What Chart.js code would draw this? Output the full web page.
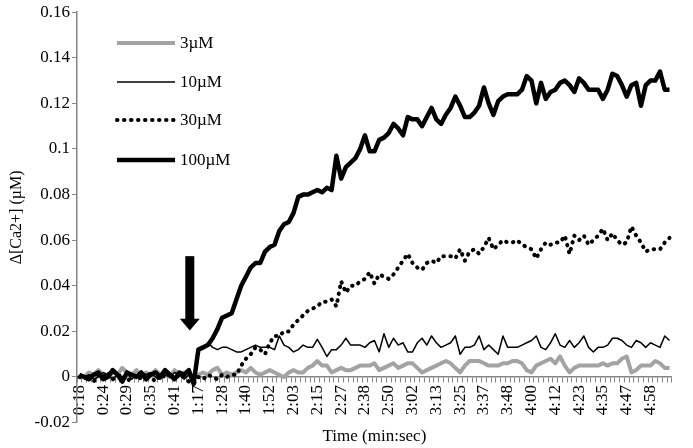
<!DOCTYPE html>
<html>
<head>
<meta charset="utf-8">
<script src="https://cdn.jsdelivr.net/npm/chart.js@4.4.1/dist/chart.umd.min.js"></script>
<style>
  body { margin: 0; background: #fff; }
  canvas { display: block; }
</style>
</head>
<body>
<canvas id="myChart" width="693" height="448"></canvas>
<script>
// tick labels shown under every 5th sample
let tickLabels = ["0:18", "0:24", "0:29", "0:35", "0:41", "1:17", "1:28", "1:40", "1:52", "2:03",
    "2:15", "2:27", "2:38", "2:50", "3:02", "3:13", "3:25", "3:37", "3:48", "4:00",
    "4:12", "4:23", "4:35", "4:47", "4:58"]
let seriesNames = ["3µM", "10µM", "30µM", "100µM"]

let s3 = [0.001, 0.000, 0.002, 0.001, 0.003, 0.001, 0.000, 0.002, 0.001, 0.004,
    0.002, 0.001, 0.003, 0.000, 0.002, 0.001, 0.003, 0.001, 0.002, 0.000,
    0.003, 0.001, 0.002, 0.001, 0.000,
    0.001, 0.002, 0.001, 0.003, 0.004, 0.001, 0.002, 0.001, 0.002, 0.003,
    0.002, 0.004, 0.002, 0.001, 0.002, 0.003, 0.002, 0.001, 0.000, 0.002,
    0.003, 0.002, 0.002, 0.004, 0.005, 0.007, 0.005, 0.005, 0.002, 0.003,
    0.004, 0.003, 0.003, 0.004, 0.005, 0.005, 0.005, 0.006, 0.003, 0.004,
    0.005, 0.006, 0.004, 0.005, 0.006, 0.006, 0.004, 0.002, 0.003, 0.004,
    0.005, 0.006, 0.007, 0.006, 0.004, 0.002, 0.005, 0.007, 0.007, 0.007,
    0.006, 0.005, 0.005, 0.005, 0.006, 0.006, 0.007, 0.007, 0.006, 0.003,
    0.002, 0.005, 0.006, 0.007, 0.008, 0.006, 0.009, 0.005, 0.002, 0.004,
    0.005, 0.005, 0.005, 0.005, 0.005, 0.006, 0.005, 0.006, 0.006, 0.008,
    0.009, 0.002, 0.003, 0.005, 0.005, 0.005, 0.007, 0.006, 0.004, 0.004]

let s10 = [0.001, 0.000, 0.001, -0.001, 0.000, 0.002, 0.001, -0.001, 0.001, 0.000,
    0.002, -0.001, 0.001, 0.000, 0.001, 0.002, 0.000, -0.001, 0.001, 0.000,
    0.002, 0.001, -0.001, 0.001, -0.002,
    0.012, 0.013, 0.015, 0.013, 0.012, 0.013, 0.013, 0.012, 0.011, 0.011,
    0.012, 0.013, 0.014, 0.013, 0.013, 0.013, 0.012, 0.018, 0.014, 0.013,
    0.011, 0.012, 0.014, 0.013, 0.013, 0.0165, 0.013, 0.009, 0.012, 0.012,
    0.014, 0.017, 0.014, 0.014, 0.014, 0.013, 0.015, 0.016, 0.011, 0.019,
    0.013, 0.017, 0.014, 0.015, 0.011, 0.011, 0.015, 0.017, 0.014, 0.018,
    0.015, 0.013, 0.014, 0.015, 0.018, 0.010, 0.013, 0.013, 0.014, 0.018,
    0.012, 0.014, 0.012, 0.010, 0.018, 0.013, 0.013, 0.013, 0.014, 0.015,
    0.016, 0.018, 0.013, 0.012, 0.015, 0.019, 0.014, 0.013, 0.016, 0.013,
    0.015, 0.018, 0.013, 0.011, 0.013, 0.013, 0.014, 0.017, 0.017, 0.016,
    0.014, 0.013, 0.016, 0.015, 0.013, 0.015, 0.014, 0.013, 0.018, 0.016]

let s30 = [0.000, -0.001, 0.001, -0.002, 0.001, 0.000, 0.002, -0.001, 0.000, 0.001,
    -0.002, 0.000, 0.001, -0.001, 0.002, 0.000, -0.002, 0.001, 0.000, 0.002,
    -0.001, 0.001, 0.000, -0.002, -0.003,
    0.000, -0.001, 0.001, 0.000, -0.001, 0.001, 0.000, 0.001, 0.001, 0.005,
    0.008, 0.010, 0.013, 0.012, 0.010, 0.015, 0.018, 0.018, 0.020, 0.020,
    0.023, 0.025, 0.027, 0.029, 0.030, 0.031, 0.033, 0.033, 0.034, 0.031,
    0.042, 0.037, 0.040, 0.040, 0.042, 0.043, 0.046, 0.041, 0.045, 0.044,
    0.043, 0.045, 0.048, 0.051, 0.054, 0.050, 0.048, 0.047, 0.050, 0.051,
    0.050, 0.053, 0.053, 0.053, 0.052, 0.056, 0.051, 0.055, 0.056, 0.054,
    0.057, 0.061, 0.056, 0.058, 0.060, 0.059, 0.059, 0.060, 0.058, 0.057,
    0.056, 0.052, 0.056, 0.059, 0.058, 0.059, 0.059, 0.062, 0.054, 0.062,
    0.060, 0.062, 0.058, 0.060, 0.062, 0.065, 0.060, 0.063, 0.060, 0.058,
    0.059, 0.066, 0.062, 0.059, 0.055, 0.056, 0.056, 0.056, 0.059, 0.061]

let s100 = [0.001, 0.000, -0.001, 0.001, 0.002, -0.001, 0.000, 0.003, 0.001, -0.002,
    0.002, 0.001, 0.000, 0.002, -0.001, 0.001, 0.002, 0.000, 0.003, 0.001,
    -0.001, 0.002, 0.001, 0.003, -0.003,
    0.012, 0.013, 0.014, 0.017, 0.021, 0.026, 0.027, 0.028, 0.034, 0.040,
    0.044, 0.048, 0.050, 0.050, 0.055, 0.057, 0.058, 0.064, 0.067, 0.068,
    0.072, 0.079, 0.080, 0.080, 0.081, 0.082, 0.081, 0.083, 0.082, 0.097,
    0.087, 0.092, 0.094, 0.096, 0.100, 0.106, 0.099, 0.099, 0.104, 0.105,
    0.107, 0.111, 0.109, 0.106, 0.114, 0.113, 0.113, 0.110, 0.114, 0.118,
    0.113, 0.111, 0.115, 0.118, 0.123, 0.119, 0.114, 0.114, 0.116, 0.119,
    0.127, 0.120, 0.115, 0.121, 0.123, 0.124, 0.124, 0.124, 0.126, 0.132,
    0.130, 0.120, 0.129, 0.122, 0.125, 0.126, 0.129, 0.130, 0.128, 0.125,
    0.131, 0.129, 0.126, 0.126, 0.126, 0.122, 0.126, 0.133, 0.132, 0.128,
    0.123, 0.128, 0.129, 0.119, 0.128, 0.130, 0.130, 0.134, 0.126, 0.126]

// stimulus arrow (category index, y values)
let arrowAt = 23.2
let arrowTop = 0.053
let arrowHead = 0.0255
let arrowTip = 0.0204

let categories = s100.map((v, i) => i % 5 == 0 ? (tickLabels[i / 5] || '') : '')

Chart.defaults.font.family = "'Liberation Serif', 'Times New Roman', serif"
Chart.defaults.color = '#000'

const axisGray = '#868686'

// legend drawn inside the plot, top-left
const insideLegend = {
    id: 'insideLegend',
    afterDatasetsDraw(chart) {
        const c = chart.ctx
        const rows = [43, 82, 120, 160]
        chart.data.datasets.forEach((ds, i) => {
            c.save()
            c.strokeStyle = ds.borderColor
            c.lineWidth = ds.borderWidth
            c.lineCap = ds.borderCapStyle || 'butt'
            c.setLineDash(ds.borderDash || [])
            c.beginPath()
            c.moveTo(117, rows[i])
            c.lineTo(175, rows[i])
            c.stroke()
            c.setLineDash([])
            c.fillStyle = '#000'
            c.font = "17px 'Liberation Serif', serif"
            c.textBaseline = 'middle'
            c.fillText(ds.label, 180, rows[i] + 1)
            c.restore()
        })
    }
}

const stimArrow = {
    id: 'stimArrow',
    afterDatasetsDraw(chart) {
        const c = chart.ctx
        const x = chart.scales.x.getPixelForValue(arrowAt)
        const yTop = chart.scales.y.getPixelForValue(arrowTop)
        const yHead = chart.scales.y.getPixelForValue(arrowHead)
        const yTip = chart.scales.y.getPixelForValue(arrowTip)
        c.save()
        c.fillStyle = '#000'
        c.fillRect(x - 4.5, yTop, 9, yHead - yTop + 1)
        c.beginPath()
        c.moveTo(x - 10, yHead)
        c.lineTo(x + 10, yHead)
        c.lineTo(x, yTip)
        c.closePath()
        c.fill()
        c.restore()
    }
}

var ctx = document.getElementById('myChart')
var myChart = new Chart(ctx, {
    type: 'line',
    data: {
        labels: categories,
        datasets: [{
            label: seriesNames[0],
            data: s3,
            borderColor: '#a3a3a3',
            borderWidth: 4,
            order: 3
        }, {
            label: seriesNames[1],
            data: s10,
            borderColor: '#000',
            borderWidth: 1.5,
            order: 2
        }, {
            label: seriesNames[2],
            data: s30,
            borderColor: '#000',
            borderWidth: 4,
            borderDash: [0.5, 6.5],
            borderCapStyle: 'round',
            order: 1
        }, {
            label: seriesNames[3],
            data: s100,
            borderColor: '#000',
            borderWidth: 4.5,
            order: 0
        }]
    },
    options: {
        responsive: false,
        animation: false,
        elements: {
            point: { radius: 0 },
            line: { tension: 0, borderJoinStyle: 'round' }
        },
        layout: { padding: { top: 8, right: 3, left: 0, bottom: 0 } },
        plugins: {
            legend: { display: false },
            tooltip: { enabled: false },
            title: {
                display: true,
                position: 'bottom',
                fullSize: false,
                text: 'Time (min:sec)',
                color: '#000',
                font: { size: 17, weight: 'normal' },
                padding: { top: 4, bottom: 1 }
            }
        },
        scales: {
            x: {
                position: { y: 0 },
                offset: true,
                grid: {
                    display: true,
                    offset: true,
                    drawOnChartArea: false,
                    tickLength: 5,
                    color: axisGray
                },
                border: { color: axisGray, width: 1.5 },
                ticks: {
                    autoSkip: false,
                    minRotation: 90,
                    maxRotation: 90,
                    padding: 3,
                    color: '#000',
                    font: { size: 17 }
                }
            },
            y: {
                min: -0.02,
                max: 0.16,
                afterFit: function (scale) { scale.width = 77 },
                grid: {
                    drawOnChartArea: false,
                    tickLength: 5,
                    color: axisGray
                },
                border: { color: axisGray, width: 1.5 },
                ticks: {
                    stepSize: 0.02,
                    padding: 2,
                    color: '#000',
                    font: { size: 17 },
                    callback: (v) => String(+v.toFixed(2))
                },
                title: {
                    display: true,
                    text: 'Δ[Ca2+] (µM)',
                    color: '#000',
                    font: { size: 16 },
                    padding: { top: 7, bottom: 18 }
                }
            }
        }
    },
    plugins: [insideLegend, stimArrow]
})
</script>
</body>
</html>
